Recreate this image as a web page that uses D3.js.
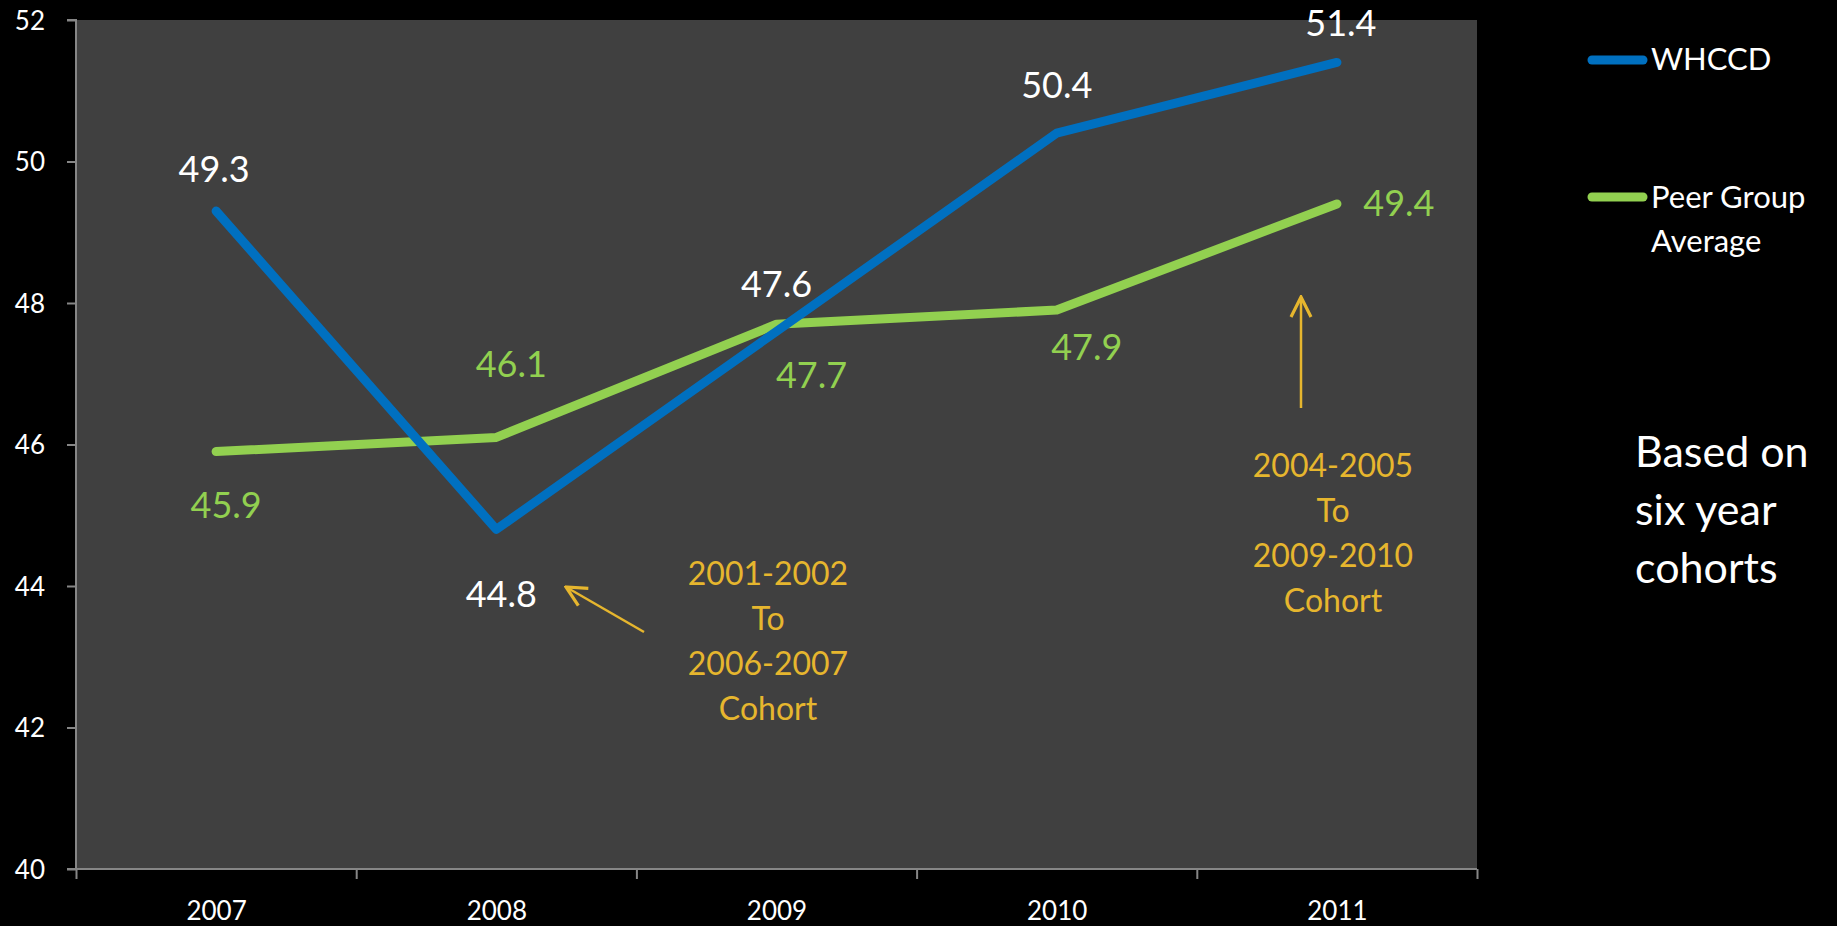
<!DOCTYPE html>
<html><head><meta charset="utf-8">
<script src="https://cdn.jsdelivr.net/npm/d3@7"></script>
<style>
html,body{margin:0;padding:0;background:#000;}
svg{display:block;}
text{font-family:Lato,"Open Sans",sans-serif;}
</style></head>
<body><svg id="c" width="1837" height="926"></svg>
<script>
const years = ["2007","2008","2009","2010","2011"];
const whccd = [49.3, 44.8, 47.6, 50.4, 51.4];
const peer = [45.9, 46.1, 47.7, 47.9, 49.4];
const yTicks = [40, 42, 44, 46, 48, 50, 52];
const seriesNames = ["WHCCD", "Peer Group Average"];
const note1 = ["2001-2002", "To", "2006-2007", "Cohort"];
const note2 = ["2004-2005", "To", "2009-2010", "Cohort"];
const sideNote = ["Based on", "six year", "cohorts"];

// label offsets (style, not data): [dx, dy] of text baseline relative to point
const whccdLabelOff = [[-2,-29],[5,78],[0,-34],[0,-35],[4,-26]];
const peerLabelOff = [[10,66],[15,-60],[35,64],[30,50],[62,12]];

const svg = d3.select("#c");
const L = 76, R = 1477, T = 20, B = 869;
const x = d3.scaleLinear().domain([-0.5, years.length - 0.5]).range([L, R]);
const y = d3.scaleLinear().domain([40, 52]).range([B, T]);

svg.append("rect").attr("x", L).attr("y", T).attr("width", R - L).attr("height", B - T).attr("fill", "#404040");

// y axis
const ya = svg.append("g").attr("transform", `translate(${L},0)`)
  .call(d3.axisLeft(y).tickValues(yTicks).tickSize(9).tickPadding(22).tickFormat(d3.format("d")));
ya.select(".domain").attr("stroke", "#868686").attr("stroke-width", 2).attr("d", `M-9,${T}H0V${B}H-9`);
ya.selectAll(".tick line").attr("stroke", "#868686").attr("stroke-width", 2);
ya.selectAll(".tick text").attr("fill", "#fff").attr("font-size", 26).attr("dy", "0.35em");

// x axis ticks at boundaries
const boundaries = d3.range(years.length + 1).map(i => i - 0.5);
const xa = svg.append("g").attr("transform", `translate(0,${B})`)
  .call(d3.axisBottom(x).tickValues(boundaries).tickSize(10).tickFormat(""));
xa.select(".domain").attr("stroke", "#868686").attr("stroke-width", 2).attr("d", `M${L},0H${R}`);
xa.selectAll(".tick line").attr("stroke", "#868686").attr("stroke-width", 2);
const xl = svg.append("g").attr("transform", `translate(0,${B})`)
  .call(d3.axisBottom(x).tickValues(d3.range(years.length)).tickSize(0).tickPadding(0).tickFormat(i => years[i]));
xl.select(".domain").remove();
xl.selectAll(".tick text").attr("fill", "#fff").attr("font-size", 26).attr("dy", null).attr("y", 51);

const line = d3.line().x((d, i) => x(i)).y(d => y(d));
const colors = ["#0070C0", "#92D050"];
svg.append("path").datum(peer).attr("d", line).attr("fill", "none").attr("stroke", colors[1]).attr("stroke-width", 9).attr("stroke-linecap", "round").attr("stroke-linejoin", "round");
svg.append("path").datum(whccd).attr("d", line).attr("fill", "none").attr("stroke", colors[0]).attr("stroke-width", 9).attr("stroke-linecap", "round").attr("stroke-linejoin", "round");

// data labels
svg.selectAll(".lw").data(whccd).enter().append("text")
  .attr("x", (d, i) => x(i) + whccdLabelOff[i][0]).attr("y", (d, i) => y(d) + whccdLabelOff[i][1])
  .attr("text-anchor", "middle").attr("font-size", 36).attr("fill", "#fff").text(d => d.toFixed(1));
svg.selectAll(".lp").data(peer).enter().append("text")
  .attr("x", (d, i) => x(i) + peerLabelOff[i][0]).attr("y", (d, i) => y(d) + peerLabelOff[i][1])
  .attr("text-anchor", "middle").attr("font-size", 36).attr("fill", "#92D050").text(d => d.toFixed(1));

// annotations
const gold = "#E6B62E";
function note(lines, cx, y0) {
  svg.append("g").selectAll("text").data(lines).enter().append("text")
    .attr("x", cx).attr("y", (d, i) => y0 + i * 45).attr("text-anchor", "middle")
    .attr("font-size", 32).attr("fill", gold).text(d => d);
}
note(note1, 768, 585);
note(note2, 1333, 477);

svg.append("defs").append("marker").attr("id", "ah").attr("viewBox", "0 0 12 12").attr("refX", 11).attr("refY", 6)
  .attr("markerWidth", 24).attr("markerHeight", 24).attr("markerUnits", "userSpaceOnUse").attr("orient", "auto")
  .append("path").attr("d", "M1,1L11,6L1,11").attr("fill", "none").attr("stroke", gold).attr("stroke-width", 1.6);
svg.append("line").attr("x1", 644).attr("y1", 632).attr("x2", 566).attr("y2", 587)
  .attr("stroke", gold).attr("stroke-width", 2.5).attr("marker-end", "url(#ah)");
svg.append("line").attr("x1", 1301).attr("y1", 408).attr("x2", 1301).attr("y2", 297)
  .attr("stroke", gold).attr("stroke-width", 2.5).attr("marker-end", "url(#ah)");

// legend
const lg = svg.append("g");
const legY = [60, 197];
seriesNames.forEach((n, i) => {
  lg.append("line").attr("x1", 1592).attr("x2", 1643).attr("y1", legY[i]).attr("y2", legY[i])
    .attr("stroke", colors[i]).attr("stroke-width", 9).attr("stroke-linecap", "round");
});
lg.append("text").attr("x", 1651).attr("y", 70).attr("font-size", 31).attr("fill", "#fff").text(seriesNames[0]);
const words = seriesNames[1].split(" ");
lg.append("text").attr("x", 1651).attr("y", 208).attr("font-size", 31).attr("fill", "#fff").text(words.slice(0, 2).join(" "));
lg.append("text").attr("x", 1651).attr("y", 252).attr("font-size", 31).attr("fill", "#fff").text(words.slice(2).join(" "));

svg.append("g").selectAll("text").data(sideNote).enter().append("text")
  .attr("x", 1635).attr("y", (d, i) => 467 + i * 58).attr("font-size", 43).attr("fill", "#fff").text(d => d);
</script></body></html>
